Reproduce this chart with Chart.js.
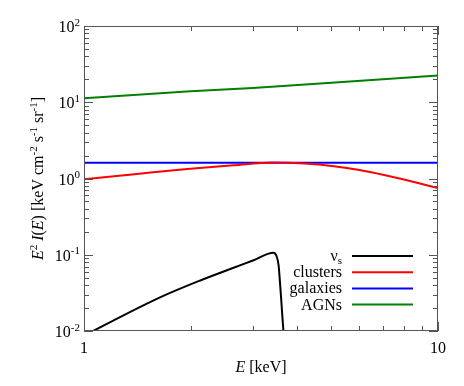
<!DOCTYPE html>
<html>
<head>
<meta charset="utf-8">
<script src="https://cdn.jsdelivr.net/npm/chart.js@4"></script>
<style>
  html, body { margin: 0; padding: 0; background: #fff; }
  #wrap { width: 464px; height: 386px; }
</style>
</head>
<body>
<div id="wrap"><canvas id="spec"></canvas></div>
<script>
// values: E in keV, E^2 I(E) in keV cm^-2 s^-1 sr^-1
const seriesNames = ['ν_{s}', 'clusters', 'galaxies', 'AGNs'];
const seriesColors = ['#000000', '#ff0000', '#0000ff', '#008000'];

const nuE   = [1.0, 1.64, 2.13, 2.6, 3.0, 3.43, 3.5, 3.545, 3.59, 3.66, 3.68];
const nuVal = [0.0087, 0.0276, 0.046, 0.0655, 0.084, 0.106, 0.0955, 0.073, 0.035, 0.010, 0.008];

const clE   = [1.0, 1.41, 1.92, 2.65, 3.4, 4.2, 5.08, 6.0, 7.04, 8.5, 10];
const clVal = [0.976, 1.146, 1.32, 1.49, 1.62, 1.57, 1.445, 1.29, 1.11, 0.905, 0.75];

const galE   = [1, 10];
const galVal = [1.61, 1.61];

const agnE   = [1, 2, 3, 5, 10];
const agnVal = [11.3, 13.9, 15.4, 18.0, 22.4];

const xTickVals   = [1, 10];
const xTickLabels = ['1', '10'];
const yTickVals   = [0.01, 0.1, 1, 10, 100];
const yTickLabels = ['10^{-2}', '10^{-1}', '10^{0}', '10^{1}', '10^{2}'];

const xTitle = '*E* [keV]';
const yTitle = '*E*^{2} *I*(*E*) [keV cm^{-2} s^{-1} sr^{-1}]';

const FONT = "'Liberation Serif', 'DejaVu Serif', serif";

function toPts(xs, ys) {
  return xs.map((x, i) => ({ x: x, y: ys[i] }));
}

// tiny markup: *italic*, ^{sup}, _{sub}
function parseRich(str) {
  const parts = str.split(/(\^\{[^}]*\}|_\{[^}]*\}|\*[^*]*\*)/).filter(s => s.length);
  return parts.map(p => {
    if (p.startsWith('^{')) return { t: p.slice(2, -1), kind: 'sup' };
    if (p.startsWith('_{')) return { t: p.slice(2, -1), kind: 'sub' };
    if (p.startsWith('*')) return { t: p.slice(1, -1), kind: 'it' };
    return { t: p, kind: 'n' };
  });
}

function segFont(kind, size) {
  if (kind === 'sup' || kind === 'sub') return Math.round(size * 0.68) + 'px ' + FONT;
  if (kind === 'it') return 'italic ' + size + 'px ' + FONT;
  return size + 'px ' + FONT;
}

function richWidth(ctx, segs, size) {
  let w = 0;
  segs.forEach(s => { ctx.font = segFont(s.kind, size); w += ctx.measureText(s.t).width; });
  return w;
}

// draws with baseline at y
function drawRich(ctx, str, x, y, size, align) {
  const segs = parseRich(str);
  const w = richWidth(ctx, segs, size);
  let cx = x;
  if (align === 'center') cx = x - w / 2;
  if (align === 'right') cx = x - w;
  ctx.textAlign = 'left';
  ctx.textBaseline = 'alphabetic';
  segs.forEach(s => {
    ctx.font = segFont(s.kind, size);
    let dy = 0;
    if (s.kind === 'sup') dy = -size * 0.4;
    if (s.kind === 'sub') dy = size * 0.2;
    ctx.fillText(s.t, cx, y + dy);
    cx += ctx.measureText(s.t).width;
  });
}

const framePlugin = {
  id: 'frame',
  afterDatasetsDraw(chart) {
    const ctx = chart.ctx;
    const a = chart.chartArea;
    const xs = chart.scales.x, ys = chart.scales.y;
    ctx.save();
    ctx.strokeStyle = '#555';
    ctx.lineWidth = 1;
    ctx.strokeRect(a.left + 0.5, a.top + 0.5, a.right - a.left - 1, a.bottom - a.top - 1);

    ctx.beginPath();
    // x ticks: decades major, 2..9 minor
    for (let d = 1; d <= 10; d *= 10) {
      for (let m = 1; m < 10; m++) {
        const v = d * m;
        if (v < xs.min || v > xs.max) continue;
        const px = Math.round(xs.getPixelForValue(v)) + 0.5;
        const len = m === 1 ? 9 : 5;
        ctx.moveTo(px, a.bottom); ctx.lineTo(px, a.bottom - len);
        ctx.moveTo(px, a.top); ctx.lineTo(px, a.top + len);
      }
    }
    // y ticks
    for (let d = 0.01; d <= 100; d *= 10) {
      for (let m = 1; m < 10; m++) {
        const v = d * m;
        if (v < ys.min * 0.999 || v > ys.max * 1.001) continue;
        const py = Math.round(ys.getPixelForValue(v)) + 0.5;
        const len = m === 1 ? 9 : 5;
        ctx.moveTo(a.left, py); ctx.lineTo(a.left + len, py);
        ctx.moveTo(a.right, py); ctx.lineTo(a.right - len, py);
      }
    }
    ctx.stroke();

    // tick labels
    ctx.fillStyle = '#000';
    xTickVals.forEach((v, i) => {
      drawRich(ctx, xTickLabels[i], xs.getPixelForValue(v), a.bottom + 22, 16, 'center');
    });
    yTickVals.forEach((v, i) => {
      drawRich(ctx, yTickLabels[i], a.left - 4, ys.getPixelForValue(v) + 6, 16, 'right');
    });

    // axis titles
    drawRich(ctx, xTitle, (a.left + a.right) / 2, a.bottom + 41, 16, 'center');
    ctx.save();
    ctx.translate(43, (a.top + a.bottom) / 2);
    ctx.rotate(-Math.PI / 2);
    drawRich(ctx, yTitle, 0, 0, 16, 'center');
    ctx.restore();

    // legend: text on the left, line sample on the right
    chart.data.datasets.forEach((ds, i) => {
      const yy = 256 + i * 16.2;
      ctx.strokeStyle = ds.borderColor;
      ctx.lineWidth = 2;
      ctx.beginPath();
      ctx.moveTo(352, yy); ctx.lineTo(413, yy);
      ctx.stroke();
      ctx.fillStyle = '#000';
      drawRich(ctx, ds.label, 342, yy + 5, 16, 'right');
    });
    ctx.restore();
  }
};

const allData = [toPts(nuE, nuVal), toPts(clE, clVal), toPts(galE, galVal), toPts(agnE, agnVal)];

new Chart(document.getElementById('spec'), {
  type: 'scatter',
  data: {
    datasets: seriesNames.map((name, i) => ({
      label: name,
      data: allData[i],
      showLine: true,
      borderColor: seriesColors[i],
      backgroundColor: seriesColors[i],
      borderWidth: 2,
      pointRadius: 0,
      cubicInterpolationMode: (i === 0 || i === 1) ? 'monotone' : 'default',
      tension: (i === 0 || i === 1) ? 0.4 : 0,
      fill: false
    }))
  },
  options: {
    responsive: true,
    maintainAspectRatio: false,
    animation: false,
    layout: { padding: { left: 84, top: 26, right: 26, bottom: 55 } },
    scales: {
      x: { type: 'logarithmic', min: 1, max: 10, display: false },
      y: { type: 'logarithmic', min: 0.01, max: 100, display: false }
    },
    plugins: {
      legend: { display: false },
      tooltip: { enabled: false }
    }
  },
  plugins: [framePlugin]
});
</script>
</body>
</html>
